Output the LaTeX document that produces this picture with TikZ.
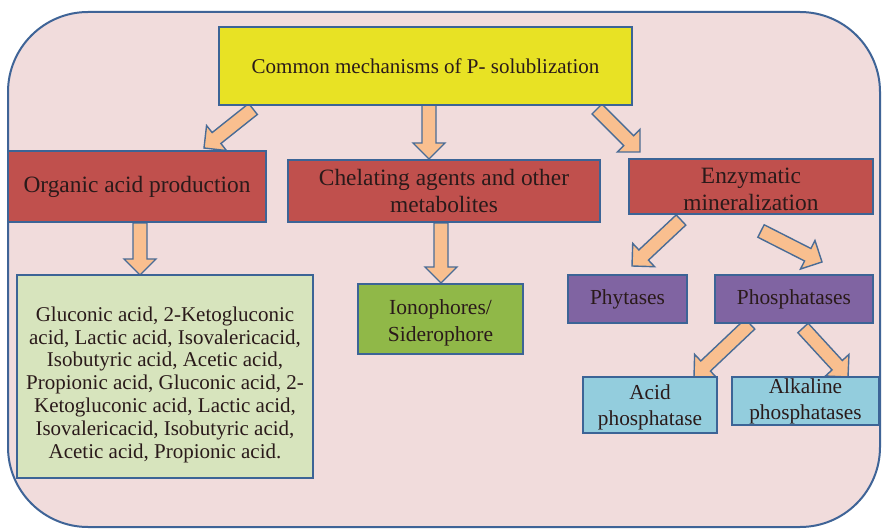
\documentclass[tikz,border=0pt]{standalone}
\usepackage{fontspec}
\setmainfont{Liberation Serif}
\usetikzlibrary{calc}
\definecolor{bgpink}{HTML}{F1DCDC}
\definecolor{frameblue}{HTML}{3F6497}
\definecolor{boxblue}{HTML}{3C6496}
\definecolor{topyellow}{HTML}{E8E224}
\definecolor{boxred}{HTML}{C0504D}
\definecolor{listgreen}{HTML}{D7E4BD}
\definecolor{ionogreen}{HTML}{90B848}
\definecolor{boxpurple}{HTML}{8064A2}
\definecolor{boxcyan}{HTML}{93CDDD}
\definecolor{arrowfill}{HTML}{F9BF8F}
\definecolor{arrowline}{HTML}{4A6C96}
\definecolor{txt}{HTML}{2A1A1A}
\tikzset{
  box/.style={draw=boxblue, line width=1.6pt, align=center, text=txt, inner sep=2pt},
  barrow/.style={draw=arrowline, fill=arrowfill, line width=1.4pt, line join=miter},
}
\newcommand\blockarrow[2]{%
  \coordinate (ba-c) at ($(#2)!16pt!(#1)$);
  \draw[barrow] ($(#1)!7pt!90:(#2)$) -- ($(ba-c)!7pt!90:(#2)$) -- ($(ba-c)!16pt!90:(#2)$) -- (#2)
    -- ($(ba-c)!16pt!-90:(#2)$) -- ($(ba-c)!7pt!-90:(#2)$) -- ($(#1)!7pt!-90:(#2)$) -- cycle;}
\begin{document}
\begin{tikzpicture}[x=1pt,y=-1pt]
\useasboundingbox (0,0) rectangle (883,529);
\fill[white] (0,0) rectangle (883,529);
\draw[frameblue, fill=bgpink, line width=2pt, rounded corners=80pt] (8,12) rectangle (880,527);

% arrow end points
\coordinate (a1s) at (253,109); \coordinate (a1e) at (204,148);
\coordinate (a2s) at (429,104); \coordinate (a2e) at (429,159);
\coordinate (a3s) at (597,109); \coordinate (a3e) at (640,152);
\coordinate (a4s) at (140,223); \coordinate (a4e) at (140,275);
\coordinate (a5s) at (441,223); \coordinate (a5e) at (441,283);
\coordinate (a6s) at (681,220); \coordinate (a6e) at (632,266);
\coordinate (a7s) at (761,231); \coordinate (a7e) at (822,262);
\coordinate (a8s) at (750,324); \coordinate (a8e) at (694,377);
\coordinate (a9s) at (803,328); \coordinate (a9e) at (848,377);
\blockarrow{a1s}{a1e}
\blockarrow{a2s}{a2e}
\blockarrow{a3s}{a3e}
\blockarrow{a4s}{a4e}
\blockarrow{a5s}{a5e}
\blockarrow{a6s}{a6e}
\blockarrow{a7s}{a7e}
\blockarrow{a8s}{a8e}
\blockarrow{a9s}{a9e}

\node[box, fill=topyellow, minimum width=413pt, minimum height=78pt, font=\fontsize{21}{25}\selectfont] (top) at (425.5,66) {Common mechanisms of P- solublization};

\node[box, fill=boxred, minimum width=258pt, minimum height=71pt, font=\fontsize{23.4}{27}\selectfont] (org) at (137,186.5) {Organic acid production};
\node[box, fill=boxred, minimum width=312pt, minimum height=62pt, font=\fontsize{23.4}{27}\selectfont] (chel) at (444,191) {Chelating agents and other\\metabolites};
\node[box, fill=boxred, minimum width=244pt, minimum height=55pt, font=\fontsize{23.4}{27}\selectfont] (enz) at (751,186.5) {\rule{0pt}{22pt}Enzymatic\\mineralization};

\node[box, fill=listgreen, minimum width=296pt, minimum height=203pt, font=\fontsize{21}{22.8}\selectfont] (list) at (165,376.5) {\rule{0pt}{31pt}Gluconic acid, 2-Ketogluconic\\acid, Lactic acid, Isovalericacid,\\Isobutyric acid, Acetic acid,\\Propionic acid, Gluconic acid, 2-\\Ketogluconic acid, Lactic acid,\\Isovalericacid, Isobutyric acid,\\Acetic acid, Propionic acid.};

\node[box, fill=ionogreen, minimum width=165pt, minimum height=70pt, font=\fontsize{21.5}{27}\selectfont] (iono) at (440.5,319) {\rule{0pt}{23pt}Ionophores/\\Siderophore};

\node[box, fill=boxpurple, minimum width=119pt, minimum height=48pt, font=\fontsize{21.4}{26}\selectfont] (phyt) at (627.5,299) {Phytases};
\node[box, fill=boxpurple, minimum width=158pt, minimum height=48pt, font=\fontsize{21.4}{26}\selectfont] (phos) at (794,299) {Phosphatases};

\node[box, fill=boxcyan, minimum width=134pt, minimum height=56pt, font=\fontsize{21.3}{26}\selectfont] (acid) at (650,405) {\rule{0pt}{19pt}Acid\\phosphatase};
\node[box, fill=boxcyan, minimum width=147pt, minimum height=48pt, inner sep=0pt, font=\fontsize{21.3}{26}\selectfont] (alk) at (805.5,401) {Alkaline\\phosphatases};
\end{tikzpicture}
\end{document}
